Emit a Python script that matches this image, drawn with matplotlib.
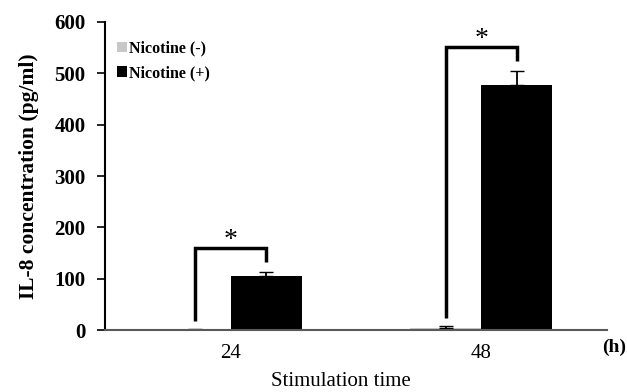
import matplotlib
matplotlib.use('Agg')
import matplotlib.pyplot as plt
import numpy as np

# IL-8 secretion with / without nicotine
times = ['24', '48']
nic_neg = [1, 4]
nic_neg_err = [0.5, 3]
nic_pos = [105, 478]
nic_pos_err = [9, 27]

# significance brackets: top, left leg end, right leg end
bracket_top = [160, 551]
bracket_left_end = [17, 23]
bracket_right_end = [132, 524]

plt.rcParams['font.family'] = ['Liberation Serif', 'DejaVu Serif']

fig = plt.figure(figsize=(6.27, 3.92), dpi=100)
ax = fig.add_axes([0.1675, 0.158, 0.8005, 0.786])

x = np.arange(len(times))
w = 0.283
ekw = dict(ecolor='black', elinewidth=1.3, capsize=5, capthick=1.0)
ax.bar(x - w / 2, nic_neg, w, color='#c8c8c8', label='Nicotine (-)',
       yerr=[[0] * len(x), nic_neg_err], error_kw=ekw)
ax.bar(x + w / 2, nic_pos, w, color='black', label='Nicotine (+)',
       yerr=[[0] * len(x), nic_pos_err], error_kw=ekw)

for i in range(len(x)):
    xl, xr = x[i] - w / 2, x[i] + w / 2
    ax.plot([xl, xl, xr, xr], [bracket_left_end[i], bracket_top[i], bracket_top[i], bracket_right_end[i]],
            color='black', lw=2.5, solid_capstyle='butt', solid_joinstyle='miter')
    ax.text(x[i], bracket_top[i] - 10, '*', ha='center', va='bottom', fontsize=20)

ax.set_xlim(-0.5, 1.5)
ax.set_ylim(0, 600)
ax.set_yticks(range(0, 601, 100))
ax.set_xticks(x)
ax.set_xticklabels(times, fontsize=15)
ax.tick_params(axis='x', length=0, pad=10)
ax.tick_params(axis='y', direction='out', length=6, width=1.2, pad=8)
for lab in ax.get_yticklabels():
    lab.set_fontweight('bold')
    lab.set_fontsize(15)

for s in ['top', 'right']:
    ax.spines[s].set_visible(False)
ax.spines['left'].set_linewidth(1.5)
ax.spines['bottom'].set_linewidth(1.5)
ax.spines['bottom'].set_color('#595959')

ax.set_ylabel('IL-8 concentration (pg/ml)', fontsize=15.5, fontweight='bold', labelpad=11)
fig.text(0.543, 0.026, 'Stimulation time', ha='center', va='center', fontsize=15)
fig.text(0.979, 0.115, '(h)', ha='center', va='center', fontsize=14, fontweight='bold')

ax.legend(loc='upper left', bbox_to_anchor=(0.011, 0.961), frameon=False,
          prop=dict(size=11.5, weight='bold'), handlelength=0.6, handleheight=0.6,
          handletextpad=0.15, labelspacing=0.55, borderaxespad=0)

fig.savefig('out.png', dpi=100)
